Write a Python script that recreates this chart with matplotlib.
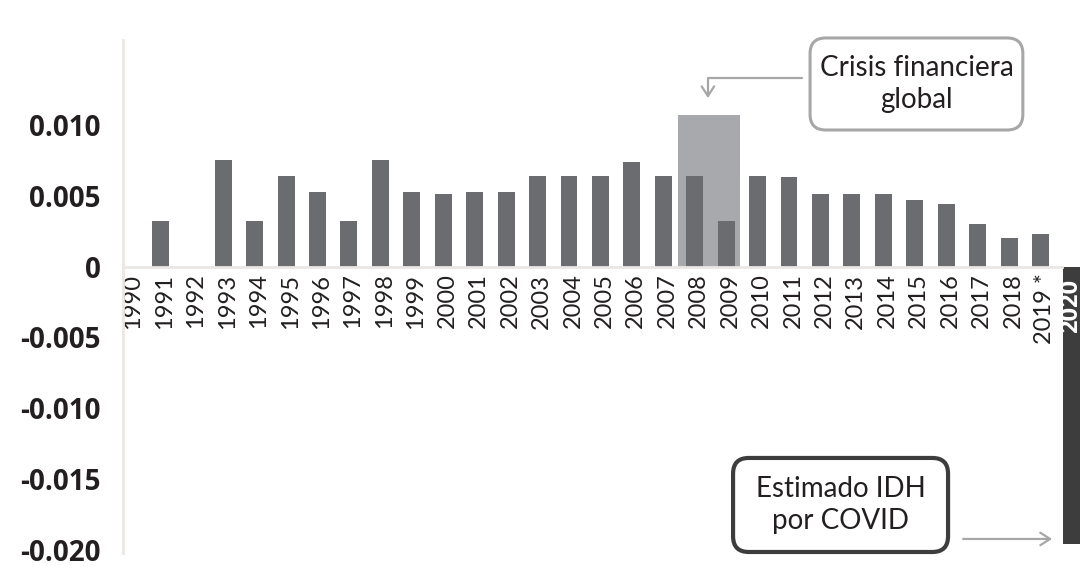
import matplotlib
matplotlib.use("Agg")
import matplotlib.pyplot as plt
from matplotlib.patches import FancyBboxPatch
from matplotlib.transforms import ScaledTranslation

# Annual change in HDI
years = list(range(1990, 2020))
changes = [0.0, 0.0032, 0.0, 0.00755, 0.0032, 0.0064, 0.0053, 0.0032, 0.00755,
           0.0053, 0.0051, 0.0053, 0.0053, 0.0064, 0.0064, 0.0064, 0.0074, 0.0064,
           0.0064, 0.0032, 0.0064, 0.0063, 0.0051, 0.0051, 0.0051, 0.0047, 0.0044,
           0.0030, 0.0020, 0.0023]
year_labels = [str(y) for y in years[:-1]] + ["2019 *"]

covid_year = 2020
covid_change = -0.0196

crisis_years = [2008, 2009]
crisis_band_height = 0.0107

y_ticks = [0.010, 0.005, 0.0, -0.005, -0.010, -0.015, -0.020]
y_tick_labels = ["0.010", "0.005", "0", "-0.005", "-0.010", "-0.015", "-0.020"]

BAR = "#6b6c70"
BAND = "#a8a9ac"
DARK = "#3d3d3d"
AXIS = "#ebe7e5"
TEXT = "#231f20"
ARROW = "#a7a7a9"

plt.rcParams["font.family"] = ["Lato", "DejaVu Sans"]

fig = plt.figure(figsize=(10.81, 5.67), dpi=100)
ax = fig.add_axes([123 / 1081, 0, 1 - 123 / 1081, 1])

XLIM = (1989.81, 2020.29)
YLIM = (-0.02121, 0.01883)
ax.set_xlim(*XLIM)
ax.set_ylim(*YLIM)

# ratio of x-unit to y-unit in display space, for round corners on data boxes
px_per_x = fig.get_figwidth() * fig.dpi * ax.get_position().width / (XLIM[1] - XLIM[0])
px_per_y = fig.get_figheight() * fig.dpi * ax.get_position().height / (YLIM[1] - YLIM[0])
aspect = px_per_x / px_per_y

# crisis highlight band behind the 2008-2009 bars
band_center = (crisis_years[0] + crisis_years[-1]) / 2 - 0.04
ax.bar(band_center, crisis_band_height, width=1.97, color=BAND, zorder=1)

ax.bar(years, changes, width=0.54, color=BAR, zorder=2)
ax.bar(covid_year, covid_change, width=0.54, color=DARK, zorder=2)

# axis lines
for s in ["top", "right"]:
    ax.spines[s].set_visible(False)
ax.spines["left"].set_color(AXIS)
ax.spines["left"].set_linewidth(2.0)
ax.spines["left"].set_bounds(-0.0202, 0.0160)
ax.spines["bottom"].set_position(("data", 0))
ax.spines["bottom"].set_color(AXIS)
ax.spines["bottom"].set_linewidth(2.0)
ax.spines["bottom"].set_bounds(1989.81, 2019.68)

ax.set_yticks(y_ticks)
ax.set_yticklabels(y_tick_labels, fontsize=20, fontweight="bold", color=TEXT,
                   family=["Open Sans", "DejaVu Sans"])
ax.tick_params(axis="y", length=0, pad=16)

ax.set_xticks(years)
ax.set_xticklabels(year_labels, rotation=90, fontsize=17, fontweight="normal",
                   color=TEXT, va="top", ha="center")
ax.tick_params(axis="x", length=0, pad=5)
shift = ScaledTranslation(4 / 100, 0, fig.dpi_scale_trans)
for lab in ax.get_xticklabels():
    lab.set_transform(lab.get_transform() + shift)

# year label inside the 2020 bar, kept inside the figure edge
ax.text(covid_year - 0.03, -0.0009, str(covid_year), rotation=90, ha="center",
        va="top", fontsize=17, fontweight="bold", color="white", zorder=3,
        family=["Open Sans", "DejaVu Sans"])


def note_box(x0, x1, y0, y1, text, edge, lw):
    box = FancyBboxPatch((x0, y0), x1 - x0, y1 - y0,
                         boxstyle="round,pad=0,rounding_size=0.5",
                         mutation_aspect=aspect, fc="white", ec=edge, lw=lw,
                         zorder=4)
    ax.add_patch(box)
    ax.text((x0 + x1) / 2, (y0 + y1) / 2, text, ha="center", va="center",
            fontsize=20, color=TEXT, linespacing=1.25, zorder=5)


note_box(2011.67, 2018.44, 0.00965, 0.01615, "Crisis financiera\nglobal", ARROW, 2.2)
ax.annotate("", xy=(2008.42, 0.0119), xytext=(2011.4, 0.01333),
            arrowprops=dict(arrowstyle="->,head_length=0.7,head_width=0.45",
                            connectionstyle="angle,angleA=0,angleB=90,rad=0",
                            color=ARROW, lw=1.6, shrinkA=0, shrinkB=0))

note_box(2009.22, 2016.06, -0.02015, -0.01351, "Estimado IDH\npor COVID", DARK, 3)
ax.annotate("", xy=(2019.37, -0.01923), xytext=(2016.54, -0.01923),
            arrowprops=dict(arrowstyle="->,head_length=0.7,head_width=0.45",
                            color=ARROW, lw=1.6, shrinkA=0, shrinkB=0))

fig.savefig("out.png", dpi=100)
